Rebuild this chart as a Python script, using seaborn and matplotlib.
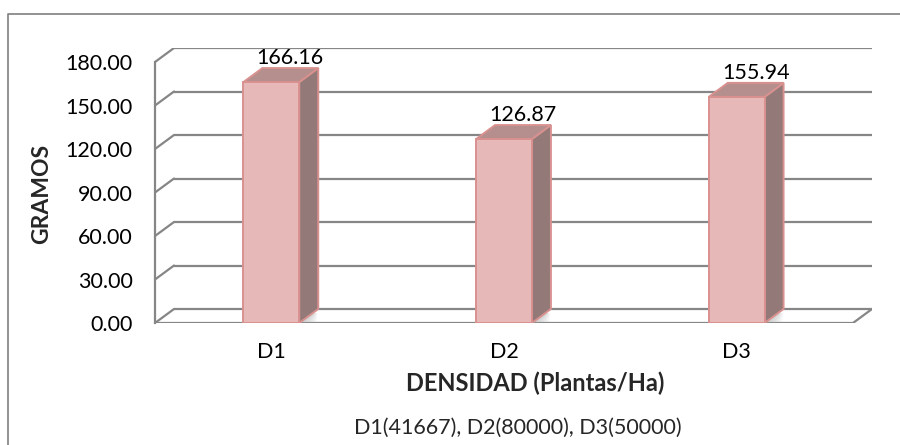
import matplotlib
matplotlib.use("Agg")
import matplotlib.pyplot as plt
from matplotlib.lines import Line2D
import seaborn as sns

# Datos
categories = ["D1", "D2", "D3"]
weights = [166.16, 126.87, 155.94]
y_ticks = [0, 30, 60, 90, 120, 150, 180]
x_title = "DENSIDAD (Plantas/Ha)"
y_title = "GRAMOS"
note = "D1(41667), D2(80000), D3(50000)"

sns.set_theme(style="white")
plt.rcParams["font.family"] = ["Lato", "DejaVu Sans"]

W, H = 900, 445
fig = plt.figure(figsize=(W / 100, H / 100), dpi=100)

# front plane of the 3-D box, in pixels
px_left, px_right = 155, 853
px_zero, px_top = 323, 62
depth_px = (19, 14)

grid_col = "#868686"
front_col = "#E6B9B8"
side_col = "#937A79"
top_col = "#B48F8D"
edge_col = "#D9918F"
fs = 15.5

ymax = y_ticks[-1]
n = len(categories)
cat_px = (px_right - px_left) / n
val_px = (px_zero - px_top) / ymax
ddx = depth_px[0] / cat_px
ddy = depth_px[1] / val_px

ax = fig.add_axes([px_left / W, 1 - px_zero / H,
                   (px_right + depth_px[0] - px_left) / W,
                   (px_zero - px_top + depth_px[1]) / H])

# back wall gridlines and their slanted joints to the front axis
x0, x1 = -0.5, n - 0.5
for t in y_ticks:
    ax.plot([x0 + ddx, x1 + ddx], [t + ddy, t + ddy], color=grid_col,
            lw=1.6, zorder=0, solid_capstyle="butt")
    ax.plot([x0, x0 + ddx], [t, t + ddy], color=grid_col, lw=1.6, zorder=0)
# floor edges
ax.plot([x0, x1], [0, 0], color=grid_col, lw=1.6, zorder=0)
ax.plot([x1, x1 + ddx], [0, ddy], color=grid_col, lw=1.6, zorder=0)

bar_w = 0.24
sns.barplot(x=categories, y=weights, ax=ax, width=bar_w, color=front_col,
            saturation=1, edgecolor=edge_col, linewidth=1.4, zorder=3)

# side and top faces of each column, plus a soft floor shadow
for i, v in enumerate(weights):
    xr = i + bar_w / 2
    xl = i - bar_w / 2
    for k in range(8):
        w_sh = ddx * (1 - k / 8) * 0.9
        ax.fill([xr, xr + w_sh, xr + ddx * 0.7 + w_sh * 0.3, xr + ddx * 0.7],
                [0, 0, ddy * 0.7, ddy * 0.7],
                facecolor="#9A9A9A", edgecolor="none", alpha=0.07, zorder=1)
    ax.fill([xr, xr + ddx, xr + ddx, xr], [0, ddy, v + ddy, v],
            facecolor=side_col, edgecolor=edge_col, lw=1.4, zorder=2)
    ax.fill([xl, xr, xr + ddx, xl + ddx], [v, v, v + ddy, v + ddy],
            facecolor=top_col, edgecolor=edge_col, lw=1.4, zorder=2)
    ax.annotate(f"{v:.2f}", (i + ddx, v + ddy), xytext=(0, 0),
                textcoords="offset points", ha="center", va="bottom",
                fontsize=fs, color="black", zorder=5)

ax.set_xlim(x0, x1 + ddx)
ax.set_ylim(0, ymax + ddy)

for s in ["top", "right"]:
    ax.spines[s].set_visible(False)
ax.spines["bottom"].set_visible(False)
ax.spines["left"].set_bounds(0, ymax)
ax.spines["left"].set_color(grid_col)
ax.spines["left"].set_linewidth(1.6)

ax.set_yticks(y_ticks)
ax.set_yticklabels([f"{t:.2f}" for t in y_ticks])
ax.set_xticks(list(range(n)) + [x1])
ax.set_xticklabels(categories + [""])
ax.tick_params(axis="both", direction="out", length=5, width=1.4,
               color=grid_col, labelsize=fs, labelcolor="black")
ax.tick_params(axis="y", pad=11)
ax.tick_params(axis="x", pad=9)
ax.set_xlabel("")
ax.set_ylabel("")

fig.text(42 / W, 1 - 194 / H, y_title, rotation=90, ha="center", va="center",
         fontsize=16.5, fontweight="bold")
fig.text(535 / W, 1 - 383 / H, x_title, ha="center", va="center",
         fontsize=17, fontweight="bold")
fig.text(518 / W, 1 - 428 / H, note, ha="center", va="center", fontsize=15.5)

# chart frame
fig.add_artist(Line2D([8 / W, 8 / W, 1], [0, 1 - 14 / H, 1 - 14 / H],
                      transform=fig.transFigure, color="#7F7F7F", lw=1.2))

fig.savefig("out.png", dpi=100, facecolor="white")
